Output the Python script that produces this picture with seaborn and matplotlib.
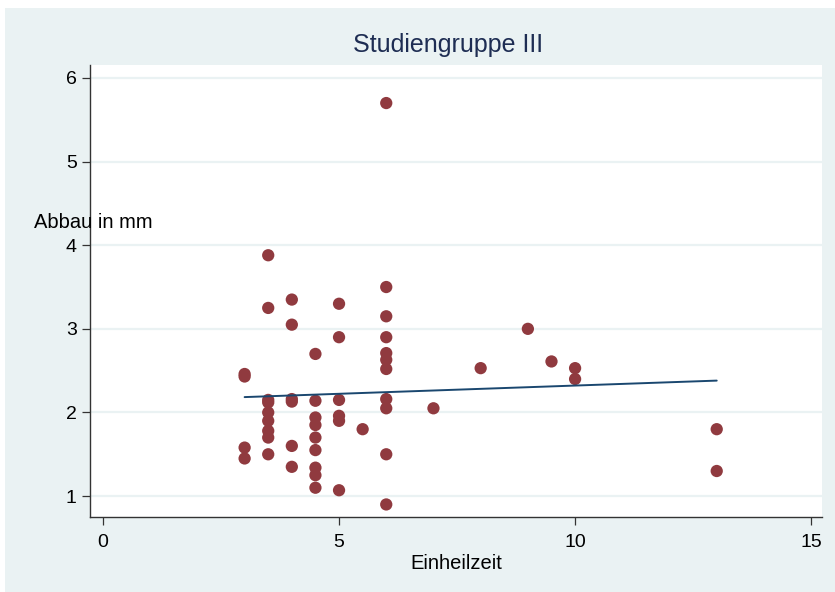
import numpy as np
import pandas as pd
import matplotlib
matplotlib.use("Agg")
import matplotlib.pyplot as plt
import seaborn as sns
from matplotlib.patches import Rectangle

# Werte (Einheilzeit -> Abbau in mm)
einheilzeit = (
    [3] * 4 + [3.5] * 9 + [4] * 6 + [4.5] * 9 + [5] * 6 + [5.5]
    + [6] * 11 + [7, 8, 9, 9.5, 10, 10, 13, 13]
)
abbau = [
    2.46, 2.43, 1.58, 1.45,
    3.88, 3.25, 2.15, 2.12, 2.00, 1.90, 1.78, 1.70, 1.50,
    3.35, 3.05, 2.16, 2.13, 1.60, 1.35,
    2.70, 2.14, 1.94, 1.85, 1.70, 1.55, 1.34, 1.25, 1.10,
    3.30, 2.90, 2.15, 1.96, 1.90, 1.07,
    1.80,
    5.70, 3.50, 3.15, 2.90, 2.71, 2.63, 2.52, 2.16, 2.05, 1.50, 0.90,
    2.05, 2.53, 3.00, 2.61, 2.53, 2.40, 1.80, 1.30,
]
x_ticks = [0, 5, 10, 15]
y_ticks = [1, 2, 3, 4, 5, 6]

df = pd.DataFrame({"Einheilzeit": einheilzeit, "Abbau": abbau})

sns.set_style("white")
plt.rcParams["font.family"] = ["Liberation Sans", "DejaVu Sans"]

bg = "#EAF2F3"
fig = plt.figure(figsize=(8.35, 5.92), dpi=100, facecolor="white")
fig.patches.append(Rectangle((5 / 835, 0), 830 / 835, 584 / 592,
                             transform=fig.transFigure, facecolor=bg,
                             edgecolor="none", zorder=-10))
ax = fig.add_axes([90 / 835, 75 / 592, 732 / 835, 452 / 592])
ax.set_facecolor("white")

sns.scatterplot(data=df, x="Einheilzeit", y="Abbau", ax=ax, color="#903A3F",
                s=78, edgecolor="none", zorder=3, legend=False)
sns.regplot(data=df, x="Einheilzeit", y="Abbau", ax=ax, scatter=False,
            ci=None, truncate=True, color="#1A476F",
            line_kws={"lw": 1.4, "zorder": 4})

ax.set_xlim(-0.275, 15.23)
ax.set_ylim(0.75, 6.155)
ax.set_xticks(x_ticks)
ax.set_yticks(y_ticks)
ax.yaxis.grid(True, color=bg, lw=1.6)
ax.set_axisbelow(True)
for s in ["top", "right"]:
    ax.spines[s].set_visible(False)
for s in ["left", "bottom"]:
    ax.spines[s].set_color("#333333")
    ax.spines[s].set_linewidth(1.0)
ax.tick_params(axis="both", direction="out", length=5.5, width=0.9,
               bottom=True, left=True, color="#333333", labelsize=14,
               labelcolor="black")
ax.tick_params(axis="x", pad=7)
ax.tick_params(axis="y", pad=4)

ax.set_xlabel("Einheilzeit", fontsize=14.5, labelpad=2, color="black")
ax.set_ylabel("")
fig.text(93 / 835, 1 - 222 / 592, "Abbau in mm", fontsize=14.5,
         color="black", ha="center", va="center", zorder=10)
fig.text(448 / 835, 1 - 45 / 592, "Studiengruppe III", fontsize=18,
         color="#1E2D53", ha="center", va="center")

fig.savefig("out.png", dpi=100, facecolor=fig.get_facecolor())
